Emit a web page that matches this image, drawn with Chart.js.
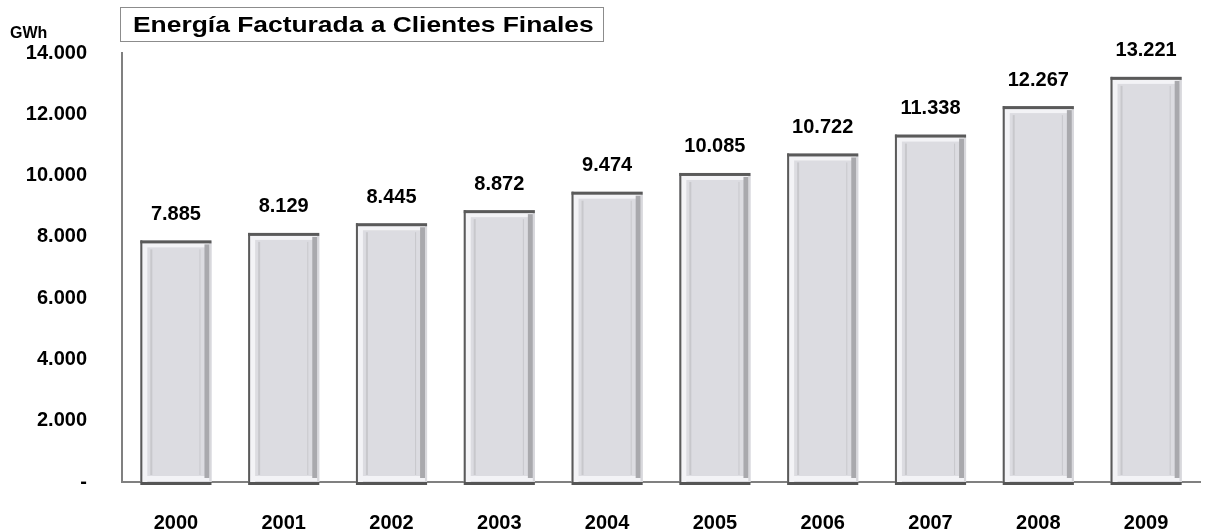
<!DOCTYPE html>
<html>
<head>
<meta charset="utf-8">
<script src="https://cdn.jsdelivr.net/npm/chart.js@4"></script>
<style>
  body { margin: 0; background: #fff; font-family: "Liberation Sans", Arial, sans-serif; }
  #wrap { position: relative; width: 1206px; height: 529px; }
  #unit { position: absolute; left: 10px; top: 24px; font-weight: bold; font-size: 16px; }
  #title { position: absolute; left: 120px; top: 7px; width: 484px; height: 35px; border: 1px solid #8c8c8c;
           box-sizing: border-box; overflow: hidden; }
  #title span { position: absolute; left: 12px; top: 1px; font-weight: bold; font-size: 22px; line-height: 31px;
                white-space: nowrap; transform: scaleX(1.2); transform-origin: 0 0; }
</style>
</head>
<body>
<div id="wrap">
  <canvas id="chart" width="1206" height="529"></canvas>
  <div id="unit">GWh</div>
  <div id="title"><span>Energía Facturada a Clientes Finales</span></div>
</div>
<script>
const years = ['2000', '2001', '2002', '2003', '2004', '2005', '2006', '2007', '2008', '2009'];
const energy = [7885, 8129, 8445, 8872, 9474, 10085, 10722, 11338, 12267, 13221];
const yTicks = [0, 2000, 4000, 6000, 8000, 10000, 12000, 14000];

function fmt(v) {
  if (v === 0) return '-';
  return v.toLocaleString('de-DE');
}

// bevelled look of the bars
const bevel = {
  id: 'bevel',
  afterDatasetsDraw(chart) {
    const ctx = chart.ctx;
    chart.getDatasetMeta(0).data.forEach(bar => {
      const l = bar.x - bar.width / 2, r = bar.x + bar.width / 2;
      const t = bar.y, b = bar.base;
      ctx.save();
      ctx.fillStyle = '#f3f3f6';
      ctx.fillRect(l + 2, t + 2, 5, b - t - 2);
      ctx.fillRect(l + 2, t + 2, r - l - 4, 5);
      ctx.fillRect(l + 2, b - 6, r - l - 4, 5);
      ctx.fillStyle = '#c8c8cc';
      ctx.fillRect(l + 10, t + 9, 2, b - t - 16);
      ctx.fillRect(r - 12, t + 9, 1, b - t - 16);
      ctx.fillStyle = '#a9a9ad';
      ctx.fillRect(r - 7, t + 4, 5, b - t - 8);
      ctx.fillStyle = '#d8d8dc';
      ctx.fillRect(r - 2, t + 2, 2, b - t - 2);
      ctx.fillStyle = '#5a5a5a';
      ctx.fillRect(l, t, r - l, 3);
      ctx.fillRect(l, t, 2, b - t);
      ctx.fillStyle = '#555';
      ctx.fillRect(l, b, r - l, 3);
      ctx.restore();
    });
  }
};

const valueLabels = {
  id: 'valueLabels',
  afterDatasetsDraw(chart) {
    const ctx = chart.ctx;
    ctx.save();
    ctx.font = 'bold 20px "Liberation Sans", Arial, sans-serif';
    ctx.fillStyle = '#000';
    ctx.textAlign = 'center';
    ctx.textBaseline = 'middle';
    chart.getDatasetMeta(0).data.forEach((bar, i) => {
      ctx.fillText(fmt(energy[i]), bar.x, bar.y - 26);
    });
    ctx.restore();
  }
};

new Chart(document.getElementById('chart'), {
  type: 'bar',
  data: {
    labels: years,
    datasets: [{
      data: energy,
      backgroundColor: '#dcdce1',
      borderWidth: 0,
      barPercentage: 0.66,
      categoryPercentage: 1
    }]
  },
  options: {
    responsive: false,
    animation: false,
    layout: { padding: { top: 53, right: 6, bottom: 0, left: 0 } },
    plugins: { legend: { display: false }, tooltip: { enabled: false } },
    scales: {
      x: {
        grid: { display: false },
        border: { color: '#808080', width: 2 },
        ticks: { color: '#000', padding: 21, font: { family: '"Liberation Sans", Arial', size: 20, weight: 'bold' } },
        afterFit(s) { s.height = 47; }
      },
      y: {
        min: 0,
        max: 14000,
        afterBuildTicks(s) { s.ticks = yTicks.map(v => ({ value: v })); },
        grid: { display: false },
        border: { color: '#808080', width: 2 },
        ticks: {
          color: '#000', padding: 27,
          font: { family: '"Liberation Sans", Arial', size: 20, weight: 'bold' },
          callback: v => fmt(v)
        },
        afterFit(s) { s.width = 122; }
      }
    }
  },
  plugins: [bevel, valueLabels]
});
</script>
</body>
</html>
